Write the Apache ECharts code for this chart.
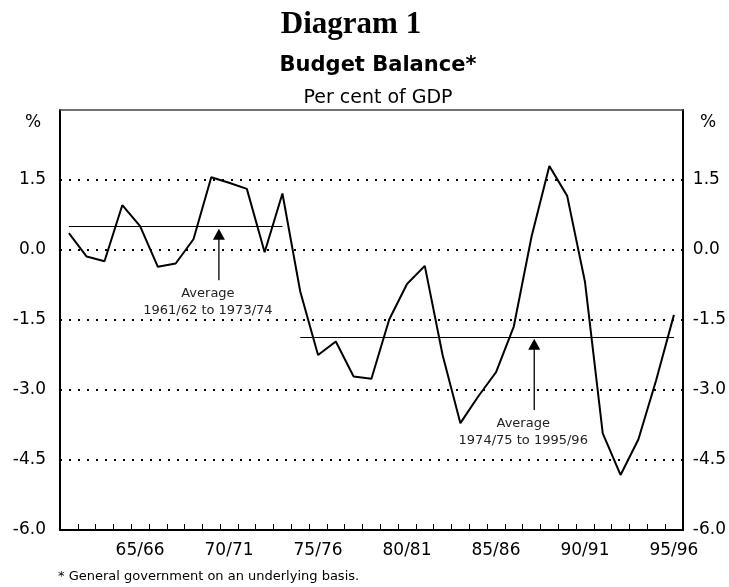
<!DOCTYPE html>
<html>
<head>
<meta charset="utf-8">
<script src="https://cdn.jsdelivr.net/npm/echarts@6/dist/echarts.min.js"></script>
<style>
html,body{margin:0;padding:0;background:#fff;}
#chart{width:729px;height:587px;}
</style>
</head>
<body>
<div id="chart"></div>
<script>
// ---- data ----
var categories = ['61/62','62/63','63/64','64/65','65/66','66/67','67/68','68/69','69/70','70/71',
  '71/72','72/73','73/74','74/75','75/76','76/77','77/78','78/79','79/80','80/81',
  '81/82','82/83','83/84','84/85','85/86','86/87','87/88','88/89','89/90','90/91',
  '91/92','92/93','93/94','94/95','95/96'];
var budgetBalance = [0.36, -0.14, -0.24, 0.96, 0.51, -0.36, -0.29, 0.23, 1.56, 1.44,
  1.31, -0.05, 1.21, -0.89, -2.25, -1.96, -2.71, -2.76, -1.49, -0.73,
  -0.34, -2.25, -3.71, -3.14, -2.62, -1.64, 0.29, 1.80, 1.16, -0.68,
  -3.93, -4.82, -4.06, -2.79, -1.39];
var averagePeriods = [['61/62','73/74'], ['74/75','95/96']];
var averageValues = [0.50, -1.86];
var averageLabels = ['Average\n1961/62 to 1973/74', 'Average\n1974/75 to 1995/96'];
var yTicks = [-6.0, -4.5, -3.0, -1.5, 0.0, 1.5, 3.0];
var shownXLabels = ['65/66','70/71','75/76','80/81','85/86','90/91','95/96'];

var FONT = 'DejaVu Sans';
var chart = echarts.init(document.getElementById('chart'), null, {renderer:'canvas'});

var yAxisCommon = {
  type: 'value',
  min: yTicks[0],
  max: yTicks[yTicks.length - 1],
  interval: 1.5,
  axisLine: {show: true, lineStyle: {color: '#000', width: 2}},
  axisTick: {show: false},
  axisLabel: {
    color: '#000', fontFamily: FONT, fontSize: 17,
    formatter: function (v) { return v >= yTicks[yTicks.length - 1] ? '' : v.toFixed(1); }
  }
};

var option = {
  animation: false,
  backgroundColor: '#fff',
  grid: {left: 60, right: 46, top: 110, bottom: 57, containLabel: false},
  xAxis: [{
    type: 'category',
    data: categories,
    boundaryGap: true,
    position: 'bottom',
    axisLine: {show: true, onZero: false, lineStyle: {color: '#000', width: 2}},
    axisTick: {show: true, inside: true, length: 6, interval: 0, lineStyle: {color: '#000', width: 1}},
    axisLabel: {
      color: '#000', fontFamily: FONT, fontSize: 17, margin: 12,
      interval: function (i, v) { return shownXLabels.indexOf(v) >= 0; }
    },
    splitLine: {show: false}
  }, {
    type: 'category',
    data: categories,
    position: 'top',
    axisLine: {show: true, onZero: false, lineStyle: {color: '#444', width: 1.5}},
    axisTick: {show: false},
    axisLabel: {show: false}
  }],
  yAxis: [
    Object.assign({}, yAxisCommon, {
      position: 'left',
      axisLabel: Object.assign({}, yAxisCommon.axisLabel, {margin: 14}),
      splitLine: {show: true, showMinLine: false, showMaxLine: false,
        lineStyle: {color: '#000', width: 2, type: [2, 7]}}
    }),
    Object.assign({}, yAxisCommon, {
      position: 'right',
      axisLabel: Object.assign({}, yAxisCommon.axisLabel, {margin: 10}),
      splitLine: {show: false}
    })
  ],
  series: [{
    name: 'Budget balance',
    type: 'line',
    data: budgetBalance,
    symbol: 'none',
    lineStyle: {color: '#000', width: 2},
    markLine: {
      silent: true,
      symbol: ['none', 'none'],
      label: {show: false},
      lineStyle: {color: '#000', width: 1.2, type: 'solid'},
      data: averagePeriods.map(function (p, k) {
        return [{coord: [p[0], averageValues[k]]}, {coord: [p[1], averageValues[k]]}];
      })
    }
  }]
};
chart.setOption(option);

// ---- annotations (titles, % signs, arrows, footnote) ----
function xAt(idx) {
  var i0 = Math.floor(idx), f = idx - i0;
  var a = chart.convertToPixel({xAxisIndex: 0}, categories[i0]);
  var b = chart.convertToPixel({xAxisIndex: 0}, categories[Math.min(i0 + 1, categories.length - 1)]);
  return a + (b - a) * f;
}
function yAt(v) { return chart.convertToPixel({yAxisIndex: 0}, v); }

var arrowIdx = [8.43, 26.15];
var arrowBottom = [-0.65, -3.43];
var graphics = [
  {type: 'text', style: {text: 'Diagram 1', font: 'bold 31px "Liberation Serif"', fill: '#000', textAlign: 'center', textVerticalAlign: 'middle'}, position: [351, 25]},
  {type: 'text', style: {text: 'Budget Balance*', font: 'bold 21px "DejaVu Sans"', fill: '#000', textAlign: 'center', textVerticalAlign: 'middle'}, position: [378, 66]},
  {type: 'text', style: {text: 'Per cent of GDP', font: '19px "DejaVu Sans"', fill: '#000', textAlign: 'center', textVerticalAlign: 'middle'}, position: [378, 98]},
  {type: 'text', style: {text: '%', font: '17px "DejaVu Sans"', fill: '#000', textAlign: 'center', textVerticalAlign: 'middle'}, position: [33, 123]},
  {type: 'text', style: {text: '%', font: '17px "DejaVu Sans"', fill: '#000', textAlign: 'center', textVerticalAlign: 'middle'}, position: [708, 123]},
  {type: 'text', style: {text: '* General government on an underlying basis.', font: '13px "DejaVu Sans"', fill: '#000', textAlign: 'left', textVerticalAlign: 'middle'}, position: [58, 577]}
];
arrowIdx.forEach(function (ai, k) {
  var x = xAt(ai);
  var tip = yAt(averageValues[k]) + 2;
  var bot = yAt(arrowBottom[k]);
  graphics.push({type: 'line', shape: {x1: x, y1: tip + 8, x2: x, y2: bot}, style: {stroke: '#000', lineWidth: 1.3}});
  graphics.push({type: 'polygon', shape: {points: [[x, tip], [x - 6, tip + 11], [x + 6, tip + 11]]}, style: {fill: '#000'}});
  graphics.push({type: 'text', style: {text: averageLabels[k], font: '13px "DejaVu Sans"', fill: '#222', textAlign: 'center', textVerticalAlign: 'top', lineHeight: 17}, position: [x - 11, bot + 5]});
});
chart.setOption({graphic: graphics});
</script>
</body>
</html>
